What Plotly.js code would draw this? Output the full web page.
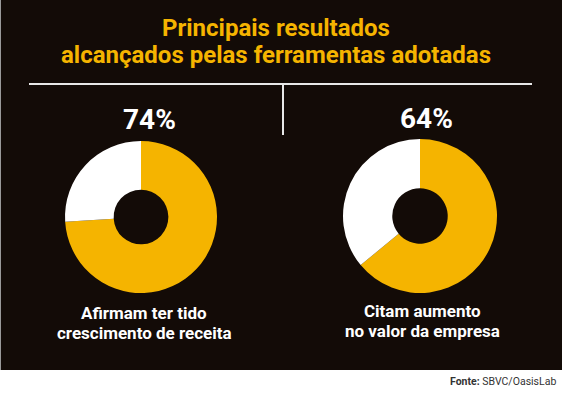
<!DOCTYPE html>
<html><head><meta charset="utf-8">
<script src="https://cdn.plot.ly/plotly-3.0.1.min.js"></script>
<style>html,body{margin:0;padding:0;background:#fff;}#chart{width:562px;height:398px;}</style>
</head><body><div id="chart"></div>
<script>
const W = 562, H = 398;
const categories = ["Sim", "Outros"];
const valuesReceita = [74, 26];
const valuesValor = [64, 36];
const pctLabels = ["74%", "64%"];
const captionsReceita = ["Afirmam ter tido", "crescimento de receita"];
const captionsValor = ["Citam aumento", "no valor da empresa"];
const titleLines = ["Principais resultados", "alcançados pelas ferramentas adotadas"];
const sourceText = "<b>Fonte:</b> SBVC/OasisLab";

const YEL = "#f5b400", WHITE = "#ffffff", DARK = "#130b07";
const px = x => x / W, py = y => 1 - y / H;

function pie(values, cx, cy, r) {
  return {
    type: "pie", values: values, labels: categories, sort: false,
    direction: "clockwise", rotation: 0, hole: 0.36,
    marker: {colors: [YEL, WHITE], line: {width: 0}},
    textinfo: "none", hoverinfo: "skip", showlegend: false,
    domain: {x: [px(cx - r), px(cx + r)], y: [py(cy + r), py(cy - r)]}
  };
}

const data = [pie(valuesReceita, 141, 217, 76), pie(valuesValor, 420, 216, 77)];

function txt(t, x, y, size, color, anchor) {
  return {text: t, xref: "paper", yref: "paper", x: px(x), y: py(y), xanchor: anchor || "center", yanchor: "middle",
    showarrow: false, font: {family: "Roboto", size: size, color: color}};
}

const layout = {
  width: W, height: H, margin: {l: 0, r: 0, t: 0, b: 0},
  paper_bgcolor: "#ffffff", showlegend: false,
  shapes: [
    {type: "rect", xref: "paper", yref: "paper", x0: 0, x1: 1, y0: py(370), y1: 1, fillcolor: DARK, line: {width: 0}, layer: "below"},
    {type: "line", xref: "paper", yref: "paper", x0: px(0.5), x1: px(0.5), y0: py(370), y1: 1, line: {color: "#9a9a9a", width: 1}},
    {type: "line", xref: "paper", yref: "paper", x0: px(29), x1: px(532), y0: py(84), y1: py(84), line: {color: "#e8e8e8", width: 2}},
    {type: "line", xref: "paper", yref: "paper", x0: px(283), x1: px(283), y0: py(84), y1: py(135), line: {color: "#e8e8e8", width: 2}}
  ],
  annotations: [
    txt("<b>" + titleLines[0] + "</b>", 276, 28, 24, YEL),
    txt("<b>" + titleLines[1] + "</b>", 276, 55, 24, YEL),
    txt("<b>" + pctLabels[0] + "</b>", 149, 120, 28, WHITE),
    txt("<b>" + pctLabels[1] + "</b>", 426, 118, 28, WHITE),
    txt("<b>" + captionsReceita[0] + "</b>", 144, 313, 17, WHITE),
    txt("<b>" + captionsReceita[1] + "</b>", 144, 333, 17, WHITE),
    txt("<b>" + captionsValor[0] + "</b>", 422, 311, 17, WHITE),
    txt("<b>" + captionsValor[1] + "</b>", 422, 331, 17, WHITE),
    txt(sourceText, 558, 381, 10.5, "#333333", "right")
  ]
};

Plotly.newPlot("chart", data, layout, {displayModeBar: false, staticPlot: true});
</script></body></html>
